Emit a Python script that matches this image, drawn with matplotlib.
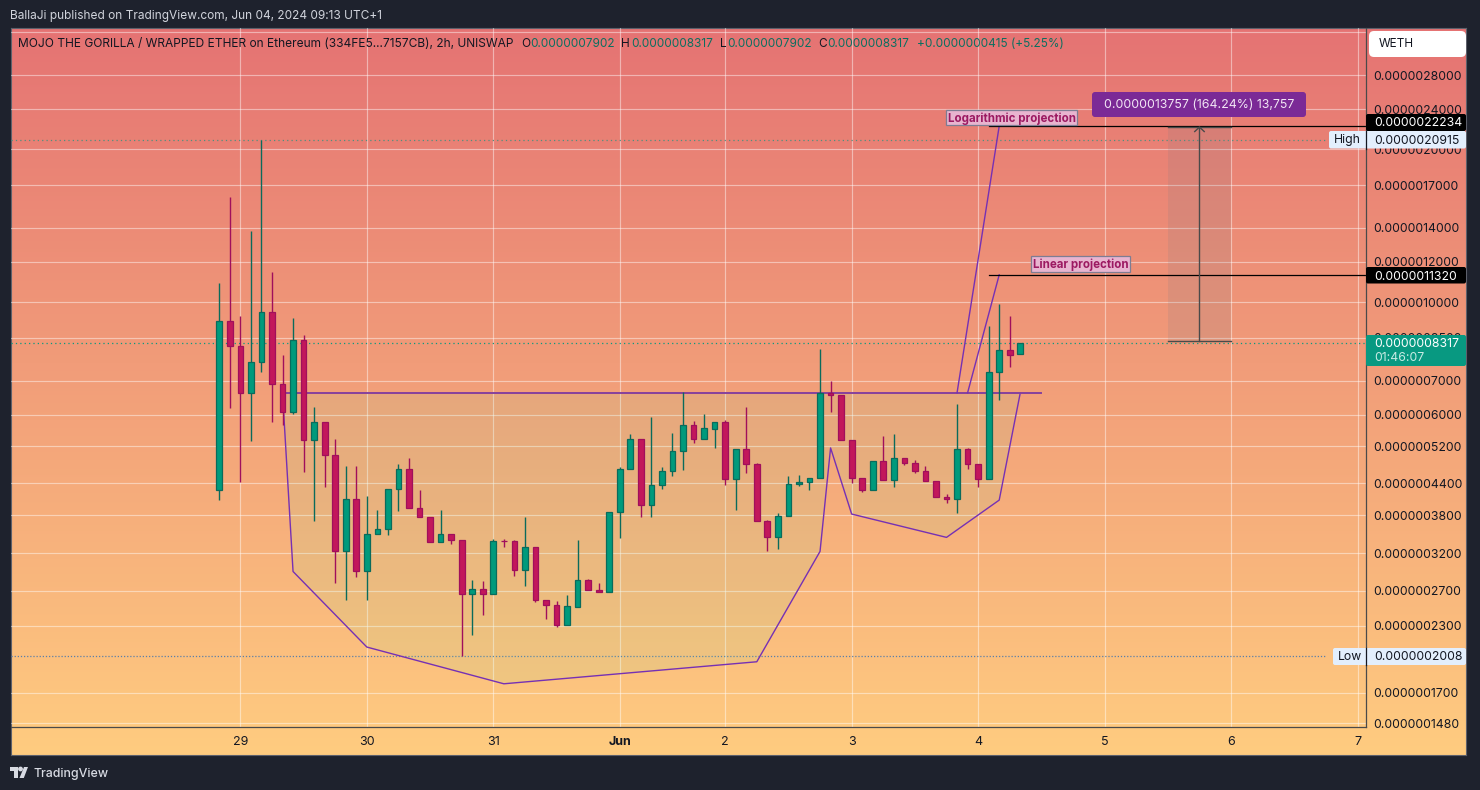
import numpy as np
import matplotlib
matplotlib.use("Agg")
import matplotlib.pyplot as plt
from matplotlib.colors import LinearSegmentedColormap
from matplotlib.patches import FancyBboxPatch, Rectangle, Polygon

plt.rcParams["font.family"] = ["Inter", "DejaVu Sans"]

# prices are kept in units of 1e-10 (0.0000028000 -> 28000)
opens = [4254, 9177, 8193, 6608, 7605, 9560, 6895, 6060, 8420, 5337, 5802, 4996, 3226, 4091, 2945, 3485, 3564, 4273, 4687, 3928,
         3771, 3360, 3491, 3397, 2665, 2719, 2665, 3386, 3381, 2959, 3290, 2587, 2528, 2315, 2512, 2833, 2706, 2689, 3850, 4679,
         5372, 3974, 4351, 4646, 5077, 5723, 5362, 5635, 5802, 4472, 5133, 4796, 3703, 3438, 3781, 4371, 4411, 4492, 6627, 6560,
         5348, 4500, 4254, 4861, 4451, 4928, 4817, 4646, 4439, 4130, 4084, 5133, 4796, 4472, 7267, 8045, 7902]
highs = [10921, 16137, 9388, 13827, 20915, 11478, 7877, 9316, 8625, 6220, 5802, 5379, 4758, 4758, 4153, 3897, 4280, 4802, 4935, 4268,
         3771, 3897, 3491, 3397, 2836, 2823, 3417, 3417, 3401, 3776, 3290, 2587, 2578, 2646, 3401, 2846, 2798, 3857, 4730, 5503,
         5372, 5944, 4737, 5527, 6636, 5837, 6026, 5802, 5856, 5133, 6220, 4817, 3720, 3845, 4547, 4568, 4500, 8093, 6999, 6560,
         5348, 4500, 4861, 5453, 5503, 4928, 4890, 4758, 4439, 4191, 6305, 5163, 4796, 8983, 9928, 9401, 8317]
lows = [4078, 6172, 4411, 5330, 7267, 5811, 5731, 6026, 4617, 3696, 4312, 2789, 2590, 2875, 2590, 3485, 3480, 3880, 3920, 3765,
        3360, 3360, 3340, 2008, 2210, 2419, 2665, 3284, 2888, 2760, 2559, 2376, 2294, 2315, 2512, 2702, 2689, 2689, 3433, 4679,
        3765, 3776, 4292, 4547, 4672, 5265, 5362, 5163, 4351, 3897, 4610, 3696, 3235, 3264, 3781, 4345, 4268, 4492, 6079, 5348,
        4405, 4229, 4254, 4451, 4326, 4765, 4610, 4431, 4122, 4023, 3845, 4694, 4326, 4472, 6421, 7434, 7902]
closes = [9177, 8178, 6608, 7619, 9560, 6883, 6060, 8420, 5337, 5802, 4987, 3226, 4091, 2945, 3491, 3570, 4280, 4687, 3920, 3765,
          3360, 3491, 3390, 2665, 2719, 2665, 3381, 3375, 2959, 3290, 2582, 2524, 2315, 2517, 2833, 2702, 2689, 3857, 4687, 5372,
          3974, 4359, 4646, 5086, 5723, 5362, 5646, 5802, 4472, 5133, 4787, 3696, 3438, 3788, 4379, 4419, 4500, 6627, 6548, 5348,
          4492, 4254, 4861, 4451, 4928, 4809, 4637, 4431, 4122, 4084, 5133, 4787, 4472, 7281, 8045, 7851, 8317]

price_ticks = [34000, 28000, 24000, 20000, 17000, 14000, 12000, 10000, 8500, 7000, 6000, 5200, 4400, 3800, 3200, 2700, 2300, 1700, 1480]
day_ticks = [2, 14, 26, 38, 48, 60, 72, 84, 96, 108]
day_labels = ["29", "30", "31", "Jun", "2", "3", "4", "5", "6", "7"]

# cup drawing and projections
cup_x = [6, 7, 14, 27, 51, 57, 58, 60, 69, 74, 76]
cup_y = [6627, 2945, 2090, 1769, 1955, 3226, 5160, 3822, 3438, 4072, 6627]
rim_x = [6, 78]
rim_price = 6627
log_target = 22234
lin_target = 11320
log_line_x = [70, 74]
lin_line_x = [71, 74]
target_start = 73
range_x = [90, 96]
range_low = 8376
range_high = 22133

last_price = 8317
high_price = 20915
low_price = 2008

UP = "#009a7c"
UP_EDGE = "#0a6b5c"
DOWN = "#c2175b"
DOWN_EDGE = "#a00f5c"
PURPLE = "#7630b4"
DARK = "#1e222d"
INK = "#131722"


def fmt(v):
    return f"{v * 1e-10:.10f}"


fig = plt.figure(figsize=(14.8, 7.9), dpi=100, facecolor=DARK)


def box_axes(x0, y0, x1, y1, **kw):
    return fig.add_axes([x0 / 1480, 1 - y1 / 790, (x1 - x0) / 1480, (y1 - y0) / 790], **kw)


# background gradient behind chart and scales
bg = box_axes(11, 28, 1466, 755, zorder=0)
cmap = LinearSegmentedColormap.from_list("bg", ["#e57373", "#ffcc80"])
bg.imshow(np.linspace(0, 1, 256).reshape(-1, 1), aspect="auto", cmap=cmap)
bg.set_xticks([])
bg.set_yticks([])
for s in bg.spines.values():
    s.set_color("#5d606b")
    s.set_linewidth(0.8)

ax = box_axes(11, 28, 1366, 727, zorder=1)
ax.patch.set_alpha(0)
ax.set_yscale("log")
ax.set_xlim(-19.76, 108.8)
ax.set_ylim(1454, 34700)
ax.yaxis.set_minor_locator(matplotlib.ticker.NullLocator())
ax.set_yticks(price_ticks)
# the top tick sits behind the symbol button, only its grid line shows
ax.set_yticklabels([""] + [fmt(p) for p in price_ticks[1:]])
ax.yaxis.tick_right()
ax.set_xticks(day_ticks)
ax.set_xticklabels(day_labels)
ax.tick_params(axis="y", length=0, pad=5.0, labelsize=8.85, labelcolor=INK)
ax.tick_params(axis="x", length=0, pad=6.8, labelsize=9, labelcolor=INK)
ax.get_xticklabels()[3].set_fontweight("bold")
ax.grid(True, color="white", alpha=0.45, linewidth=0.85)
ax.set_axisbelow(True)
for name in ["top", "left"]:
    ax.spines[name].set_visible(False)
for name in ["right", "bottom"]:
    ax.spines[name].set_color("#4a4a4a")
    ax.spines[name].set_linewidth(0.9)

# dotted reference lines
ax.axhline(high_price, color="#4f8f7f", lw=0.9, ls=(0, (1, 2.5)), xmax=0.97, zorder=1.5)
ax.axhline(last_price, color="#089981", lw=0.9, ls=(0, (1, 2.5)), zorder=1.5)
ax.axhline(low_price, color="#5c7fa8", lw=0.9, ls=(0, (1, 1.5)), xmax=0.97, zorder=1.5)

# cup fill and outline
cup_pts = list(zip(cup_x, cup_y))
ax.add_patch(Polygon(cup_pts, closed=True, facecolor="#7ee69a", edgecolor="none", alpha=0.10, zorder=1.8))
ax.plot(cup_x, cup_y, color=PURPLE, lw=1.0, zorder=2)
ax.plot(rim_x, [rim_price, rim_price], color="#86419c", lw=1.4, zorder=2)

# projection lines
ax.plot(log_line_x, [rim_price, log_target], color=PURPLE, lw=1.0, zorder=2)
ax.plot(lin_line_x, [rim_price, lin_target], color=PURPLE, lw=1.0, zorder=2)
ax.plot([target_start, 108.8], [log_target, log_target], color="black", lw=0.9, zorder=2)
ax.plot([target_start, 108.8], [lin_target, lin_target], color="black", lw=0.9, zorder=2)

# price range tool
ax.fill_between(range_x, range_low, range_high, color="#787b86", alpha=0.15, lw=0, zorder=1.6)
mid_x = sum(range_x) / 2
ax.plot(range_x, [range_low, range_low], color="#4a4a4a", lw=1.0, zorder=2)
ax.plot(range_x, [range_high, range_high], color="#4a4a4a", lw=1.0, zorder=2)
ax.plot([mid_x, mid_x], [range_low, range_high], color="#4a4a4a", lw=1.0, zorder=2)
ax.plot([mid_x - 0.45, mid_x, mid_x + 0.45], [range_high * 0.98, range_high, range_high * 0.98], color="#4a4a4a", lw=1.0, zorder=2)

# candles
for i, (o, h, l, c) in enumerate(zip(opens, highs, lows, closes)):
    up = c >= o
    edge = UP_EDGE if up else DOWN_EDGE
    body = UP if up else DOWN
    ax.plot([i, i], [l, h], color=edge, lw=1.0, zorder=3, solid_capstyle="butt")
    ax.add_patch(Rectangle((i - 0.27, min(o, c)), 0.54, abs(c - o), facecolor=body, edgecolor=edge, lw=0.9, zorder=4))

# chrome drawn in pixel coordinates
ui = fig.add_axes([0, 0, 1, 1], zorder=2)
ui.set_xlim(0, 1480)
ui.set_ylim(790, 0)
ui.axis("off")


def label(x, y, s, color=INK, size=8.8, ha="left", **kw):
    ui.text(x, y + 1.2, s, color=color, fontsize=size, ha=ha, va="center", **kw)


def tag(x0, y0, x1, y1, color, radius=2):
    ui.add_patch(FancyBboxPatch((x0 + radius, y0 + radius), x1 - x0 - 2 * radius, y1 - y0 - 2 * radius,
                                boxstyle=f"round,pad={radius},rounding_size={radius}", facecolor=color, edgecolor="none", zorder=5))


label(10, 15, "BallaJi published on TradingView.com, Jun 04, 2024 09:13 UTC+1", color="#d1d4dc", size=8.55)

label(18, 43, "MOJO THE GORILLA / WRAPPED ETHER on Ethereum (334FE5...7157CB), 2h, UNISWAP", size=8.6)
GREEN_TXT = "#0b6f60"
label(521, 43, "O", size=8.5)
label(530, 43, fmt(7902), color=GREEN_TXT, size=8.5)
label(621, 43, "H", size=8.5)
label(631, 43, fmt(8317), color=GREEN_TXT, size=8.5)
label(720, 43, "L", size=8.5)
label(727, 43, fmt(7902), color=GREEN_TXT, size=8.5)
label(818, 43, "C", size=8.5)
label(827, 43, fmt(8317), color=GREEN_TXT, size=8.5)
label(917, 43, "+" + fmt(415) + " (+5.25%)", color=GREEN_TXT, size=8.5)

# symbol button
tag(1369, 31, 1466, 57, "white", radius=5)
label(1379, 43, "WETH", size=8.5, zorder=6)

# price tags
tag(1366, 114, 1466, 131, "black")
label(1374, 122.3, fmt(log_target), color="white", zorder=6)
tag(1329, 131, 1466, 148.5, "#e3effd")
label(1334, 139, "High", zorder=6)
ui.plot([1366, 1366], [131, 148.5], color=INK, lw=0.9, zorder=6)
label(1374, 139.3, fmt(high_price), zorder=6)
tag(1366, 267, 1466, 283.5, "black")
label(1374, 275.5, fmt(lin_target), color="white", zorder=6)
tag(1366, 335, 1466, 366, "#089981")
label(1374, 343, fmt(last_price), color="white", zorder=6)
label(1374, 357, "01:46:07", color="#c8ebe4", zorder=6)
tag(1333, 648, 1466, 665, "#e3effd")
label(1338, 656.3, "Low", zorder=6)
ui.plot([1366, 1366], [648, 665], color=INK, lw=0.9, zorder=6)
label(1374, 656.3, fmt(low_price), zorder=6)

# drawing labels
for x0, y0, x1, y1, s in [(946, 110, 1077, 125.3, "Logarithmic projection"), (1031, 256, 1130, 272, "Linear projection")]:
    ui.add_patch(Rectangle((x0, y0), x1 - x0, y1 - y0, facecolor="#e8b4cf", edgecolor="#7d7d93", lw=0.9, zorder=5))
    ui.text((x0 + x1) / 2, (y0 + y1) / 2 + 1, s, color="#9c1a62", fontsize=8.3, fontweight="bold", ha="center", va="center", zorder=6)

tag(1092, 92, 1306, 117, "#7b2a96", radius=3)
label(1199, 104, f"{fmt(range_high - range_low)} (164.24%) 13,757", color="#f2e6f5", size=8.9, ha="center", zorder=6)

# footer logo
ui.add_patch(Polygon([(10, 767), (18, 767), (18, 778), (14, 778), (14, 771), (10, 771)], closed=True, facecolor="#d8dbe3", edgecolor="none"))
ui.add_patch(Polygon([(19.5, 778), (24, 767), (28, 767), (23.8, 778)], closed=True, facecolor="#d8dbe3", edgecolor="none"))
ui.add_patch(plt.Circle((20.5, 769), 1.7, color="#d8dbe3"))
label(33, 772.5, "TradingView", color="#d8dbe3", size=8.9, fontweight="medium")

fig.savefig("out.png", dpi=100, facecolor=DARK)
